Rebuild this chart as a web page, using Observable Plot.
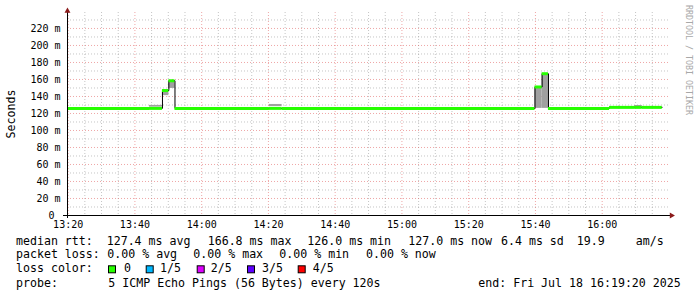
<!DOCTYPE html>
<html><head><meta charset="utf-8">
<script src="https://cdn.jsdelivr.net/npm/d3@7"></script>
<script src="https://cdn.jsdelivr.net/npm/@observablehq/plot@0.6"></script>
<style>body{margin:0;background:#fff}#chart svg{display:block}</style>
</head><body><div id="chart"></div>
<script>
// ---- data ----
const day = "2025-07-18T";
const stepTimes   = ["13:19:48","13:44:22","13:48:15","13:50:10","13:52:00","14:20:18","14:24:06","15:39:52","15:42:00","15:43:54","16:02:12","16:09:42","16:12:00","16:18:00"];
const medianMs    = [126.0, 126.0, 147.0, 158.5, 126.0, 126.0, 126.0, 151.2, 166.8, 126.0, 127.2, 127.2, 127.2, 127.2];
const smokeLowMs  = [126.0, 127.5, 141.0, 149.5, 126.0, 128.2, 126.0, 126.0, 126.0, 126.0, 127.2, 127.4, 127.2];
const smokeHighMs = [126.0, 129.5, 147.0, 158.5, 126.0, 130.6, 126.0, 151.2, 166.8, 126.0, 127.2, 129.4, 127.2];
const yTickValues  = [0, 20, 40, 60, 80, 100, 120, 140, 160, 180, 200, 220];
const yMinorValues = [10, 30, 50, 70, 90, 110, 130, 150, 170, 190, 210, 230];
const xTickLabels  = ["13:20","13:40","14:00","14:20","14:40","15:00","15:20","15:40","16:00"];
const xDomainTimes = ["13:19:48","16:19:52"];
const yMaxMs = 238.8;
const rowLabels = ["median rtt:", "packet loss:", "loss color:", "probe:"];
const rttStats  = ["127.4 ms avg", "166.8 ms max", "126.0 ms min", "127.0 ms now", "6.4 ms sd", "19.9", "am/s"];
const lossStats = ["0.00 % avg", "0.00 % max", "0.00 % min", "0.00 % now"];
const lossNames  = ["0", "1/5", "2/5", "3/5", "4/5"];
const lossColors = ["#26ff00", "#00b8ff", "#dd00ff", "#5e00ff", "#ff0000"];
const probeText = "5 ICMP Echo Pings (56 Bytes) every 120s";
const endText = "end: Fri Jul 18 16:19:20 2025";
const yAxisTitle = "Seconds";
const watermark = "RRDTOOL / TOBI OETIKER";

// ---- derived tables ----
const T = s => new Date(day + (s.length === 5 ? s + ":00" : s) + "Z");
const xDomain = xDomainTimes.map(T);
const xTicks = xTickLabels.map(T);
const xMinor = d3.utcMinute.every(5).range(xTicks[0], xDomain[1]).filter(d => d.getUTCMinutes() % 20 !== 0);
const points = stepTimes.map((s, i) => ({t: T(s), m: medianMs[i]}));
const segs = stepTimes.slice(0, -1).map((s, i) => ({t0: T(s), t1: T(stepTimes[i + 1]), m: medianMs[i], lo: smokeLowMs[i], hi: smokeHighMs[i]}));
const smoke = segs.filter(d => d.hi > d.lo);

const majorGrid = "rgba(224,80,80,0.5)";
const minorGrid = "rgba(140,140,140,0.5)";
const arrowColor = "#8b1a1a";

const chart = Plot.plot({
  width: 697, height: 297,
  marginLeft: 67, marginRight: 29, marginTop: 12, marginBottom: 82,
  style: {fontFamily: "DejaVu Sans Mono", fontSize: "10px", background: "white", color: "black"},
  x: {type: "utc", domain: xDomain},
  y: {domain: [0, yMaxMs]},
  marks: [
    Plot.ruleY(yMinorValues, {stroke: minorGrid, strokeDasharray: "1,2"}),
    Plot.ruleX(xMinor, {stroke: minorGrid, strokeDasharray: "1,2"}),
    Plot.ruleY(yTickValues.slice(1), {stroke: majorGrid, strokeDasharray: "1,2"}),
    Plot.ruleX(xTicks, {stroke: majorGrid, strokeDasharray: "1,2"}),
    Plot.rect(smoke, {x1: "t0", x2: "t1", y1: "lo", y2: "hi", fill: "#a0a0a0"}),
    Plot.line(points, {x: "t", y: "m", curve: "step-after", stroke: "#000", strokeWidth: 1}),
    Plot.ruleY(segs, {x1: "t0", x2: "t1", y: "m", stroke: lossColors[0], strokeWidth: 3}),
    Plot.ruleX([xDomain[0]], {stroke: "black", insetTop: -2, insetBottom: -3}),
    Plot.ruleY([0], {stroke: "black", insetLeft: -4, insetRight: -2}),
    Plot.dot([xDomain[0]], {x: d => d, frameAnchor: "top", symbol: "triangle", r: 2.2, fill: arrowColor, stroke: null, dy: -1.5}),
    Plot.dot([0], {y: d => d, frameAnchor: "right", symbol: "triangle", rotate: 90, r: 2.2, fill: arrowColor, stroke: null, dx: 3}),
    Plot.axisY(yTickValues, {tickSize: 0, tickPadding: 7, label: null, tickFormat: d => d === 0 ? "0\u00a0" : d + " m"}),
    Plot.axisX(xTicks, {tickSize: 0, tickPadding: 5, label: null, tickFormat: d3.utcFormat("%H:%M")})
  ]
});
document.getElementById("chart").append(chart);

// ---- annotations & legend ----
const svg = d3.select(chart);
const g = svg.append("g").attr("font-family", "DejaVu Sans Mono").attr("fill", "black").attr("text-anchor", "start");
g.append("text").attr("transform", "translate(10.5,114) rotate(-90)").attr("text-anchor", "middle")
  .attr("dy", "0.35em").attr("font-size", "11.6px").text(yAxisTitle);
g.append("text").attr("transform", "translate(688.5,60) rotate(90)").attr("text-anchor", "middle")
  .attr("dy", "0.35em").attr("font-size", "8.3px").attr("fill", "#a8a8a8").text(watermark);

const fs = "11.6px";
const rowY = [245.2, 258, 272.2, 286.6];
const put = (x, y, s) => g.append("text").attr("x", x).attr("y", y).attr("font-size", fs).attr("text-anchor", "start").text(s);
rowLabels.forEach((s, i) => put(16, rowY[i], s));
const rttX = [106.7, 207.7, 307.3, 408.3, 501, 576.7, 635.7];
rttStats.forEach((s, i) => put(rttX[i], rowY[0], s));
const lossX = [107.3, 193.3, 279.3, 366];
lossStats.forEach((s, i) => put(lossX[i], rowY[1], s));
const swX = [108, 145.7, 196.7, 247, 297.7];
const swTextX = [124, 160, 210.7, 262, 312.7];
lossNames.forEach((s, i) => {
  g.append("rect").attr("x", swX[i] + 0.5).attr("y", 265.8).attr("width", 7).attr("height", 7)
    .attr("fill", lossColors[i]).attr("stroke", "black").attr("stroke-width", 1);
  put(swTextX[i], rowY[2], s);
});
put(108.3, rowY[3], probeText);
put(478.3, rowY[3], endText);
</script>
</body></html>
